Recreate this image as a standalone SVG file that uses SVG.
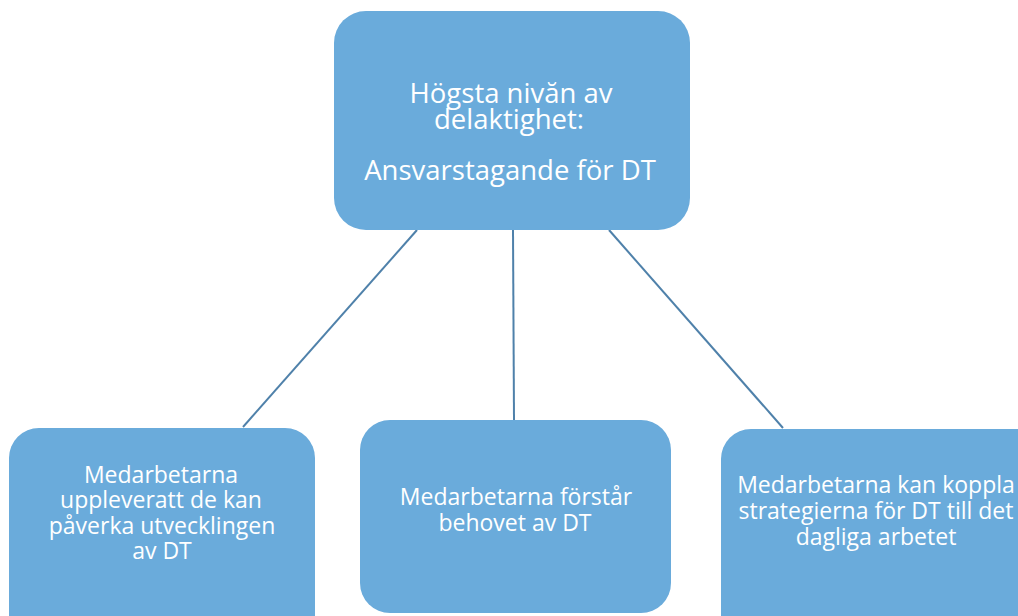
<svg xmlns="http://www.w3.org/2000/svg" width="1018" height="616" viewBox="0 0 1018 616">
  <style>
    .box { fill: #6aabdb; }
    .link { stroke: #4f81aa; stroke-width: 2; fill: none; }
    .t { font-family: "Open Sans", "Noto Sans", sans-serif; fill: #ffffff; text-anchor: middle; }
    .big { font-size: 27.5px; }
    .small { font-size: 23px; }
  </style>
  <rect width="1018" height="616" fill="#ffffff"/>
  <g id="connectors">
    <line class="link" x1="417" y1="230" x2="243" y2="427"/>
    <line class="link" x1="513" y1="230" x2="514" y2="420"/>
    <line class="link" x1="609" y1="230" x2="783" y2="428"/>
  </g>
  <g id="node-top">
    <rect class="box" x="334" y="11" width="356" height="219" rx="32" ry="32"/>
    <text class="t big"><tspan x="511" y="103">Högsta nivăn av</tspan><tspan x="509" y="129">delaktighet:</tspan><tspan x="510" y="180">Ansvarstagande för DT</tspan></text>
  </g>
  <g id="node-left">
    <rect class="box" x="9" y="428" width="306" height="220" rx="30" ry="30"/>
    <text class="t small"><tspan x="161" y="483">Medarbetarna</tspan><tspan x="161" y="508">uppleveratt de kan</tspan><tspan x="162" y="534">påverka utvecklingen</tspan><tspan x="162" y="559">av DT</tspan></text>
  </g>
  <g id="node-middle">
    <rect class="box" x="360" y="420" width="311" height="193" rx="30" ry="30"/>
    <text class="t small"><tspan x="516" y="505">Medarbetarna förstår</tspan><tspan x="515" y="531">behovet av DT</tspan></text>
  </g>
  <g id="node-right">
    <rect class="box" x="721" y="429" width="330" height="220" rx="30" ry="30"/>
    <text class="t small"><tspan x="876" y="493">Medarbetarna kan koppla</tspan><tspan x="876" y="519">strategierna för DT till det</tspan><tspan x="876" y="545">dagliga arbetet</tspan></text>
  </g>
</svg>
